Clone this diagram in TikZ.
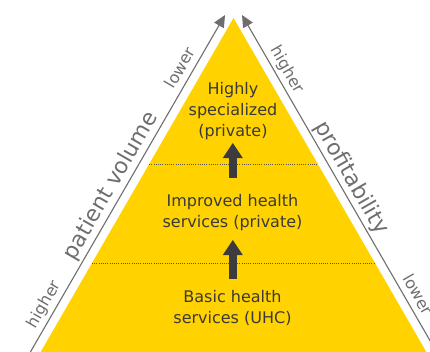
\documentclass[tikz,border=0pt]{standalone}
\usepackage{fontspec}
\setmainfont{DejaVu Sans}
\usetikzlibrary{arrows.meta}
\definecolor{eyyellow}{HTML}{FFD200}
\definecolor{sidegray}{HTML}{6E6E6E}
\definecolor{textdark}{HTML}{3A3A3A}
\definecolor{arrowdark}{HTML}{3C3C3E}
\definecolor{dotgray}{HTML}{5A5540}
\begin{document}
\begin{tikzpicture}[x=1pt,y=-1pt,
  sideline/.style={draw=sidegray,line width=1.1pt,-{Triangle[length=12pt,width=11pt]},fill=none},
  levelsep/.style={draw=dotgray,line width=1pt,dash pattern=on 1pt off 1.2pt},
  uparrow/.style={draw=arrowdark,line width=8.5pt,-{Triangle[length=15pt,width=20pt,line width=0pt]}},
  bodytext/.style={text=textdark,align=center,inner sep=0pt,font={\fontsize{16}{21}\selectfont}},
  smalllabel/.style={text=sidegray,inner sep=0pt,anchor=base,font={\fontsize{16}{16}\selectfont}},
  biglabel/.style={text=sidegray,inner sep=0pt,anchor=base,font={\fontsize{22}{22}\selectfont}}]
\useasboundingbox (0,0) rectangle (430,351);
\clip (0,0) rectangle (430,351);
% pyramid
\coordinate (apex) at (233.5,18);
\coordinate (bl) at (31.4,368);
\coordinate (br) at (435.6,368);
\fill[eyyellow] (apex) -- (bl) -- (br) -- cycle;
% level separators
\coordinate (s1l) at (149.2,164);
\coordinate (s1r) at (317.8,164);
\coordinate (s2l) at (92.0,263);
\coordinate (s2r) at (375.0,263);
\draw[levelsep] (s1l) -- (s1r);
\draw[levelsep] (s2l) -- (s2r);
% side axes
\coordinate (lb) at (22.9,365);
\coordinate (lt) at (225,15);
\coordinate (rb) at (444.1,365);
\coordinate (rt) at (242,15);
\draw[sideline] (lb) -- (lt);
\draw[sideline] (rb) -- (rt);
% side labels
\node[smalllabel,rotate=60] (llow) at (184.9,70.4) {lower};
\node[biglabel,rotate=60] (lvol) at (116.4,189.0) {patient volume};
\node[smalllabel,rotate=60] (lhigh) at (48.4,306.8) {higher};
\node[smalllabel,rotate=-60] (rhigh) at (283.1,72.1) {higher};
\node[biglabel,rotate=-60] (rprof) at (346.1,181.2) {profitability};
\node[smalllabel,rotate=-60] (rlow) at (413.1,297.3) {lower};
% level texts
\node[bodytext] (top) at (233,111.3) {Highly\\specialized\\(private)};
\node[bodytext] (mid) at (232.5,212.1) {Improved health\\services (private)};
\node[bodytext] (bot) at (232.5,308.3) {Basic health\\services (UHC)};
% upward arrows
\coordinate (a1s) at (232.8,178);
\coordinate (a1e) at (232.8,143);
\coordinate (a2s) at (232.8,279);
\coordinate (a2e) at (232.8,240);
\draw[uparrow] (a1s) -- (a1e);
\draw[uparrow] (a2s) -- (a2e);
\end{tikzpicture}
\end{document}
